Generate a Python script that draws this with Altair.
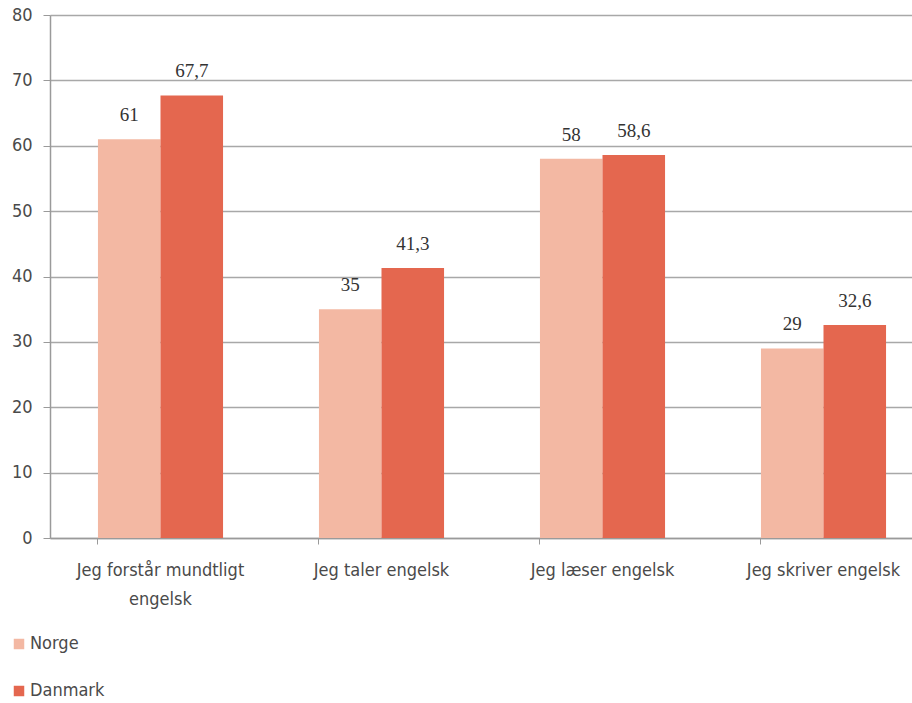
import altair as alt
import pandas as pd

# Survey answers: share of respondents per statement, by country
categories = [
    "Jeg forstår mundtligt engelsk",
    "Jeg taler engelsk",
    "Jeg læser engelsk",
    "Jeg skriver engelsk",
]
series = ["Norge", "Danmark"]
norge = [61, 35, 58, 29]
danmark = [67.7, 41.3, 58.6, 32.6]
colors = ["#F3B8A3", "#E4674F"]
y_ticks = [0, 10, 20, 30, 40, 50, 60, 70, 80]

rows = []
for cat, n, d in zip(categories, norge, danmark):
    rows.append({"kategori": cat, "land": "Norge", "vaerdi": n})
    rows.append({"kategori": cat, "land": "Danmark", "vaerdi": d})
df = pd.DataFrame(rows)
df["etiket"] = df["vaerdi"].map(lambda v: f"{v:g}".replace(".", ","))

axis_font = "Liberation Sans Narrow, DejaVu Sans Condensed, Arial Narrow, sans-serif"

x_enc = alt.X(
    "kategori:N",
    sort=categories,
    scale=alt.Scale(range=[0, 884], paddingInner=0.434, paddingOuter=0.217),
    axis=alt.Axis(
        title=None,
        labelAngle=0,
        labelFont=axis_font,
        labelFontSize=18,
        labelColor="#4a4a4a",
        labelPadding=17,
        labelLineHeight=29,
        labelLimit=400,
        labelExpr="datum.label == 'Jeg forstår mundtligt engelsk' ? ['Jeg forstår mundtligt', 'engelsk'] : datum.label",
        bandPosition=0,
        domainColor="#9a9a9a",
        domainWidth=1.5,
        tickColor="#9a9a9a",
        tickSize=6,
        grid=False,
    ),
)
xoff_enc = alt.XOffset("land:N", sort=series, scale=alt.Scale(paddingInner=0, paddingOuter=0))
y_enc = alt.Y(
    "vaerdi:Q",
    scale=alt.Scale(domain=[0, 80], nice=False),
    axis=alt.Axis(
        title=None,
        values=y_ticks,
        labelFont=axis_font,
        labelFontSize=18,
        labelColor="#4a4a4a",
        labelPadding=11,
        grid=True,
        gridColor="#a8a8a8",
        gridWidth=1.3,
        domainColor="#9a9a9a",
        domainWidth=1.5,
        tickColor="#9a9a9a",
        tickSize=7,
    ),
)

bars = alt.Chart(df).mark_bar().encode(
    x=x_enc,
    xOffset=xoff_enc,
    y=y_enc,
    color=alt.Color(
        "land:N",
        sort=series,
        scale=alt.Scale(domain=series, range=colors),
        legend=alt.Legend(
            title=None,
            orient="none",
            legendX=-40,
            legendY=620,
            direction="vertical",
            symbolType="square",
            symbolSize=110,
            symbolStrokeWidth=0,
            labelFont=axis_font,
            labelFontSize=18,
            labelColor="#4a4a4a",
            labelOffset=2,
            rowPadding=29,
        ),
    ),
)

labels = alt.Chart(df).mark_text(
    baseline="bottom",
    dy=-14,
    font="Liberation Serif, Times New Roman, serif",
    fontSize=19,
    color="#333333",
).encode(
    x=alt.X("kategori:N", sort=categories),
    xOffset=alt.XOffset("land:N", sort=series),
    y="vaerdi:Q",
    text="etiket:N",
)

chart = (
    alt.layer(bars, labels)
    .properties(
        width=862,
        height=523,
        background="white",
        autosize=alt.AutoSizeParams(type="none"),
        padding={"left": 50, "top": 15, "right": 0, "bottom": 165},
    )
    .configure_view(stroke=None)
)

chart.save("out.html", embed_options={"renderer": "svg", "actions": False})
